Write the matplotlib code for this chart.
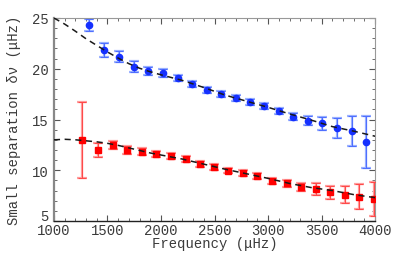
import numpy as np
import matplotlib.pyplot as plt
import matplotlib.transforms as mtransforms

# blue series (l=0 / l=2 separation)
f_blue = [1330, 1470, 1610, 1750, 1881, 2022, 2162, 2293, 2427, 2558, 2698,
          2832, 2963, 3106, 3236, 3377, 3508, 3648, 3782, 3919]
v_blue = [24.35, 21.85, 21.2, 20.2, 19.8, 19.55, 19.06, 18.53, 17.94, 17.5,
          17.15, 16.75, 16.3, 15.8, 15.28, 14.9, 14.63, 14.16, 13.84, 12.78]
e_blue = [0.6, 0.66, 0.53, 0.55, 0.4, 0.38, 0.3, 0.3, 0.3, 0.3, 0.28,
          0.3, 0.3, 0.3, 0.35, 0.46, 0.66, 0.97, 1.5, 2.6]

# red series
f_red = [1265, 1408, 1548, 1685, 1819, 1953, 2093, 2231, 2364, 2495, 2629,
         2769, 2900, 3034, 3175, 3305, 3446, 3579, 3720, 3850, 3993]
v_red = [12.98, 12.0, 12.49, 12.0, 11.83, 11.6, 11.37, 11.1, 10.58, 10.29,
         9.96, 9.7, 9.4, 8.97, 8.71, 8.38, 8.15, 7.82, 7.59, 7.4, 7.17]
e_red = [3.73, 0.72, 0.43, 0.38, 0.33, 0.3, 0.3, 0.3, 0.3, 0.28, 0.28,
         0.28, 0.3, 0.3, 0.32, 0.4, 0.56, 0.62, 0.82, 1.23, 1.64]

# dashed model curves
f_fit = [1000, 1100, 1200, 1300, 1400, 1500, 1600, 1700, 1800, 1900, 2000,
         2200, 2400, 2600, 2800, 3000, 3200, 3400, 3600, 3800, 4000]
v_fit_blue = [25.0, 24.4, 23.7, 22.95, 22.3, 21.65, 21.05, 20.5, 20.05, 19.7,
              19.4, 18.85, 18.15, 17.4, 16.8, 16.2, 15.55, 14.95, 14.3, 13.85, 13.35]
v_fit_red = [13.0, 13.05, 13.0, 12.9, 12.8, 12.65, 12.45, 12.2, 11.95, 11.7,
             11.5, 11.1, 10.6, 10.1, 9.65, 9.2, 8.7, 8.3, 8.0, 7.6, 7.3]

plt.rcParams['font.family'] = ['Liberation Mono', 'DejaVu Sans']
txt = '#3a3a3a'

fig = plt.figure(figsize=(4.15, 2.55), dpi=100)
ax = fig.add_axes([0.130, 0.1294, 0.774, 0.7961])

# light wide error bars, then darker thin ones on top
ax.errorbar(f_blue, v_blue, yerr=e_blue, fmt='none', ecolor='#9db3ff',
            elinewidth=1.6, capsize=3.3, capthick=1.6, zorder=2)
ax.errorbar(f_blue, v_blue, yerr=e_blue, fmt='none', ecolor='#4f6fff',
            elinewidth=0.8, capsize=3.0, capthick=0.8, zorder=3)
ax.errorbar(f_red, v_red, yerr=e_red, fmt='none', ecolor='#ffa0a0',
            elinewidth=1.6, capsize=3.3, capthick=1.6, zorder=2)
ax.errorbar(f_red, v_red, yerr=e_red, fmt='none', ecolor='#ff4a4a',
            elinewidth=0.8, capsize=3.0, capthick=0.8, zorder=3)

ax.plot(f_blue, v_blue, 'o', color='#1530ff', ms=4.5, mec='#1530ff', zorder=4)
ax.plot(f_red, v_red, 's', color='#ff0000', ms=4, mec='#ff0000', zorder=4)

ax.plot(f_fit, v_fit_blue, '--', color='#1a1a1a', lw=1.1, dashes=(4, 3), zorder=5)
ax.plot(f_fit, v_fit_red, '--', color='#1a1a1a', lw=1.1, dashes=(4, 3), zorder=5)

ax.set_xlim(1000, 4000)
ax.set_ylim(5, 25)
ax.set_xticks(np.arange(1000, 4001, 500))
ax.set_xticks(np.arange(1000, 4001, 100), minor=True)
ax.set_yticks(np.arange(5, 26, 5))
ax.set_yticks(np.arange(5, 26, 1), minor=True)
ax.tick_params(which='both', direction='in', top=True, right=True,
               colors='#555555', labelcolor=txt, labelsize=10)
ax.tick_params(axis='x', pad=1.5)
ax.tick_params(axis='y', pad=4)
ax.tick_params(which='major', length=4, width=0.8)
ax.tick_params(which='minor', length=2, width=0.6)

for s in ['top', 'right']:
    ax.spines[s].set_color('#999999')
    ax.spines[s].set_linewidth(0.8)
ax.spines['left'].set_color('#888888')
ax.spines['left'].set_linewidth(1.6)
ax.spines['bottom'].set_color('#222222')
ax.spines['bottom'].set_linewidth(1.0)

ax.set_xlabel('Frequency (μHz)', fontsize=10, color=txt, labelpad=-1)
ax.set_ylabel('Small separation δν (μHz)', fontsize=10, color=txt, labelpad=8)

# nudge the lowest y label up so it clears the first x label
fig.canvas.draw()
r = fig.canvas.get_renderer()
lab5 = ax.yaxis.get_major_ticks()[0].label1
lab1k = ax.xaxis.get_major_ticks()[0].label1
dy = lab1k.get_window_extent(r).y1 - lab5.get_window_extent(r).y0 + 0.5
if dy > 0:
    lab5.set_transform(lab5.get_transform() + mtransforms.Affine2D().translate(0, dy))

fig.savefig('out.png', dpi=100)
